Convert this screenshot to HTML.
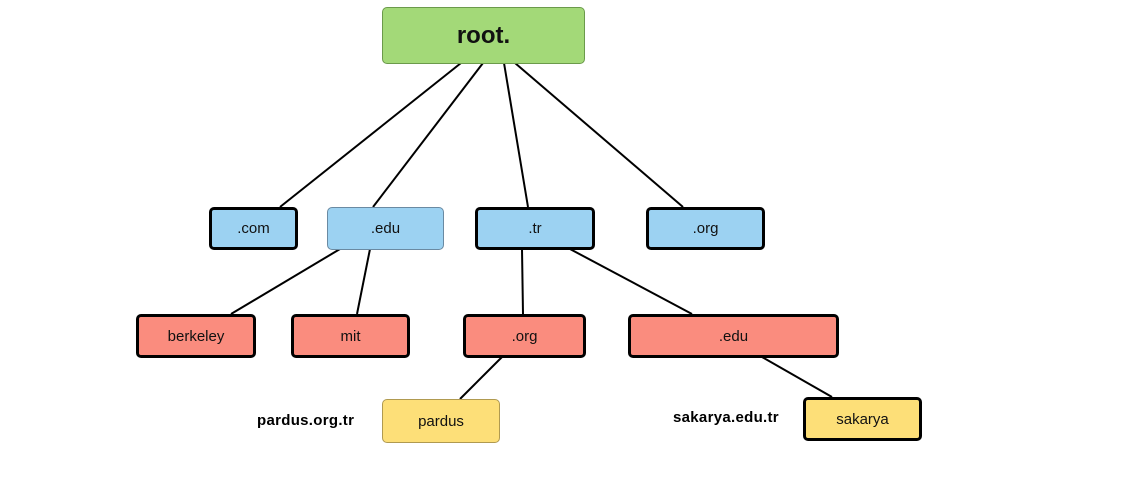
<!DOCTYPE html>
<html><head><style>
body{margin:0;width:1136px;height:500px;background:#fff;position:relative;overflow:hidden;font-family:"Liberation Sans","DejaVu Sans",sans-serif;}
.n{position:absolute;box-sizing:border-box;display:flex;align-items:center;justify-content:center;font-size:15px;color:#111;border-radius:5px;}
.k{border:3px solid #000;}
.b{background:#9cd2f2}.r{background:#fa8c7e}.y{background:#fddf78}
.l{position:absolute;font-weight:bold;font-size:15px;color:#000;letter-spacing:0.3px;}
svg{position:absolute;left:0;top:0}
</style></head><body>
<svg width="1136" height="500"><g stroke="#000" stroke-width="2" fill="none">
<line x1="461" y1="63" x2="280" y2="207"/>
<line x1="483" y1="63" x2="373" y2="207"/>
<line x1="504" y1="63" x2="528" y2="207"/>
<line x1="515" y1="63" x2="683" y2="207"/>
<line x1="340" y1="249" x2="231" y2="314"/>
<line x1="370" y1="249" x2="357" y2="314"/>
<line x1="522" y1="249" x2="523" y2="314"/>
<line x1="570" y1="249" x2="692" y2="314"/>
<line x1="502" y1="357" x2="460" y2="399"/>
<line x1="762" y1="357" x2="832" y2="397"/>
</g></svg>
<div class="n" style="left:382px;top:7px;width:203px;height:57px;background:#a3d978;border:1.5px solid #6b9a4b;font-size:24px;font-weight:bold;">root.</div>
<div class="n b k" style="left:209px;top:207px;width:89px;height:43px;">.com</div>
<div class="n b" style="left:327px;top:207px;width:117px;height:43px;border:1.5px solid #6a8aa2;">.edu</div>
<div class="n b k" style="left:475px;top:207px;width:120px;height:43px;">.tr</div>
<div class="n b k" style="left:646px;top:207px;width:119px;height:43px;">.org</div>
<div class="n r k" style="left:136px;top:314px;width:120px;height:44px;">berkeley</div>
<div class="n r k" style="left:291px;top:314px;width:119px;height:44px;">mit</div>
<div class="n r k" style="left:463px;top:314px;width:123px;height:44px;">.org</div>
<div class="n r k" style="left:628px;top:314px;width:211px;height:44px;">.edu</div>
<div class="n y" style="left:382px;top:399px;width:118px;height:44px;border:1.5px solid #b09a50;">pardus</div>
<div class="n y k" style="left:803px;top:397px;width:119px;height:44px;">sakarya</div>
<div class="l" style="left:257px;top:412px;">pardus.org.tr</div>
<div class="l" style="left:673px;top:409px;">sakarya.edu.tr</div>
</body></html>
